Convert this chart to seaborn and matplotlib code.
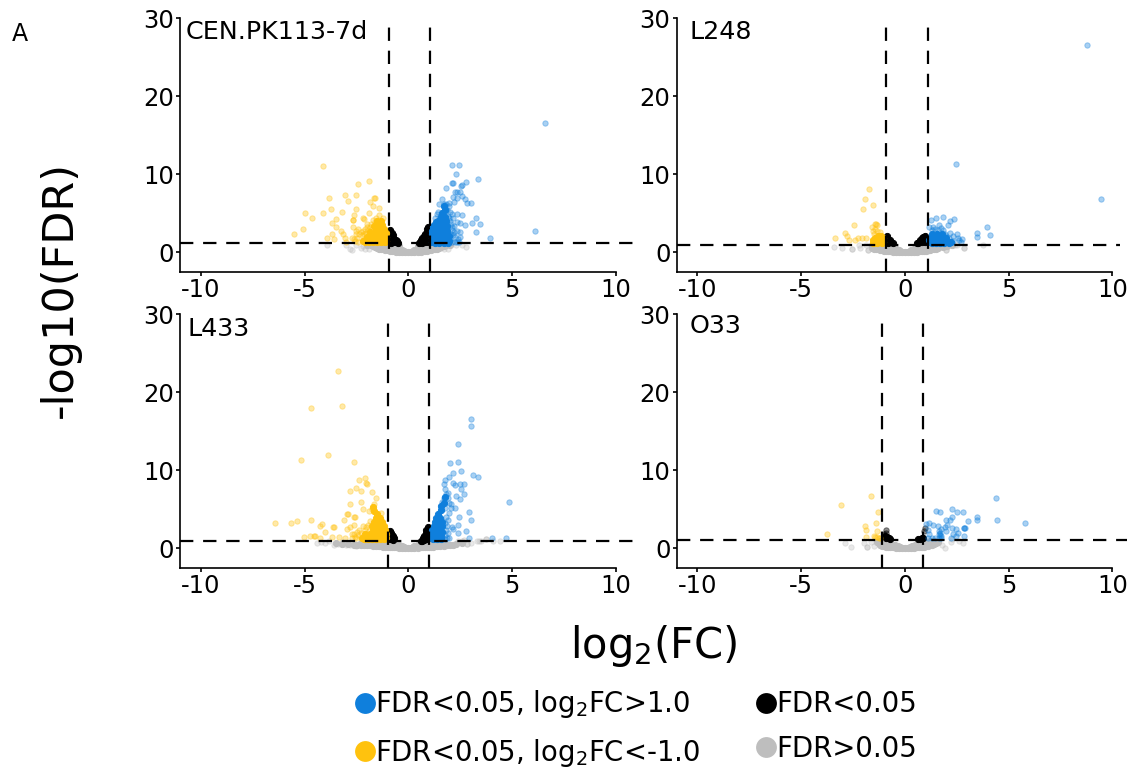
import matplotlib
matplotlib.use("Agg")
import matplotlib.pyplot as plt
from matplotlib.lines import Line2D
import seaborn as sns

sns.set_theme(style="ticks")
plt.rcParams["font.family"] = ["DejaVu Sans"]
plt.rcParams["mathtext.default"] = "regular"
plt.rcParams["axes.unicode_minus"] = False

BLUE = "#0F7FDC"
YELLOW = "#FFC20E"
BLACK = "#000000"
GRAY = "#BEBEBE"

panel_names = ["CEN.PK113-7d", "L248", "L433", "O33"]
x_ticks = [-10, -5, 0, 5, 10]
y_ticks = [0, 10, 20, 30]
legend_labels = ["FDR<0.05, log$_2$FC>1.0", "FDR<0.05, log$_2$FC<-1.0", "FDR<0.05", "FDR>0.05"]

# threshold lines
cen_lines = (-0.93, 1.06, 1.15)
l248_lines = (-0.90, 1.09, 1.0)
l433_lines = (-1.0, 0.99, 0.93)
o33_lines = (-1.11, 0.88, 1.07)

# ---------- CEN.PK113-7d ----------
cen_up = [(6.6,16.6),(6.1,2.8),(3.93,1.9),(2.1,11.2),(2.44,11.15),(2.3,10.1),(3.37,9.35),(2.8,9.05),(2.1,8.9),(2.17,8.9),
 (2.59,8.6),(2.52,8.55),(1.8,8.3),(2.27,7.75),(2.35,7.75),(2.5,7.7),(2.6,7.2),(2.15,7.05),(2.35,7.0),(2.75,6.85),
 (1.62,6.85),(2.83,6.3),(3.0,6.3),(2.2,6.5),(1.5,6.25),(1.7,6.25),(1.83,6.25),(1.94,5.9),(1.78,5.7),(2.35,4.9),
 (2.57,4.85),(3.28,4.45),(3.47,3.7),(3.05,3.75),(2.73,3.45),(2.47,3.75),(2.35,3.85),(3.28,2.6),(2.47,2.6),(2.35,2.8),
 (2.18,4.4),(2.26,2.0),(2.5,2.0),(2.35,1.4),(2.1,2.9),(2.0,1.6),(2.2,3.4),(2.05,3.7),(2.15,2.2),(1.95,4.4),(1.3,4.4),(1.45,5.2),
 (2.4,1.7),(2.25,1.3),(2.1,1.35),(2.05,2.4),(2.2,2.6),(2.1,3.2),(2.0,4.0),(2.1,4.9),(1.9,4.7),(1.55,4.7),(1.4,4.9),(2.0,5.2),(1.95,6.3),(2.45,1.3),(1.85,5.4)]
cen_up_core = [(1.2,1.5),(1.4,1.5),(1.6,1.5),(1.8,1.5),(1.95,1.5),(1.2,2.0),(1.4,2.0),(1.6,2.0),(1.8,2.0),(1.95,2.1),
 (1.2,2.5),(1.4,2.5),(1.6,2.5),(1.8,2.5),(1.2,3.0),(1.4,3.0),(1.6,3.0),(1.8,3.0),(1.25,3.5),(1.45,3.5),(1.65,3.5),(1.85,3.4),
 (1.45,4.0),(1.65,4.0),(1.8,4.0),(1.6,4.5),(1.75,4.5),(1.65,5.0),(1.75,5.4),(1.7,5.9),(1.15,1.3),(1.15,1.8),(1.15,2.3),(1.15,2.8),(1.2,3.3),(1.3,1.25),(1.5,1.25),(1.7,1.25),(1.9,1.25),
 (1.3,1.75),(1.5,1.75),(1.7,1.75),(1.3,2.25),(1.5,2.25),(1.7,2.25),(1.88,2.8),(1.3,2.75),(1.5,2.75),(1.7,2.75),(1.35,3.9)]
cen_down = [(-4.13,11.1),(-1.9,9.2),(-2.4,8.7),(-3.05,7.3),(-2.5,7.35),(-3.8,7.0),(-2.9,6.6),(-1.86,6.5),(-1.6,7.0),(-1.65,7.0),
 (-1.7,6.0),(-1.43,5.7),(-5.0,5.1),(-4.1,5.0),(-3.7,5.5),(-3.2,5.2),(-2.5,5.6),(-4.65,4.4),(-3.5,4.3),(-3.66,3.8),
 (-3.5,3.2),(-2.67,4.2),(-2.65,4.2),(-2.2,4.4),(-2.15,4.3),(-1.88,5.0),(-2.63,4.8),(-5.5,2.3),(-5.07,3.0),(-3.26,2.7),
 (-3.66,2.35),(-3.9,1.9),(-3.6,1.7),(-3.16,2.3),(-3.0,1.3),(-2.7,1.85),(-3.05,1.8),(-2.65,3.2),(-2.4,3.0),(-2.5,2.3),
 (-2.3,2.6),(-2.55,1.5),(-2.2,1.6),(-2.0,3.7),(-1.7,4.2),(-1.4,4.8),(-2.6,1.75),(-2.45,1.9),(-2.35,2.3),(-2.2,2.8),(-2.1,3.0),(-2.0,3.2),(-2.25,2.2),
 (-2.15,2.4),(-1.95,2.9),(-2.05,2.5),(-2.4,1.4),(-2.5,2.75),(-1.8,3.6),(-1.85,3.2),(-1.6,3.9),(-1.75,3.0),(-1.55,4.4),(-1.2,4.4)]
cen_down_core = [(-1.05,1.5),(-1.2,1.5),(-1.4,1.5),(-1.6,1.5),(-1.8,1.5),(-2.0,1.5),(-2.2,1.5),(-1.05,2.0),(-1.2,2.0),(-1.4,2.0),
 (-1.6,2.0),(-1.8,2.0),(-2.0,2.0),(-1.05,2.5),(-1.2,2.5),(-1.4,2.5),(-1.6,2.5),(-1.85,2.6),(-1.15,3.0),(-1.35,3.0),(-1.55,3.0),
 (-1.25,3.5),(-1.45,3.5),(-1.65,3.4),(-1.3,4.0),(-1.5,4.0),(-1.1,1.3),(-1.3,1.3),(-1.5,1.3),(-1.7,1.3),(-1.9,1.3),(-2.1,1.3),(-1.1,1.8),(-1.3,1.8),(-1.5,1.8),(-1.7,1.8),(-1.1,2.3),(-1.3,2.3),(-1.5,2.3),(-1.7,2.3)]
cen_black = [(-0.87,1.4),(-0.87,1.9),(-0.87,2.4),(-0.86,2.85),(-0.75,1.3),(-0.75,1.8),(-0.72,2.2),(-0.6,1.3),(-0.6,1.65),(-0.47,1.25),
 (-0.85,1.65),(-0.8,2.1),(-0.8,2.5),(-0.68,1.5),(-0.52,1.45),(-0.85,1.2),
 (0.95,1.4),(0.95,1.9),(0.95,2.4),(0.95,2.9),(0.97,3.3),(0.82,1.4),(0.82,1.9),(0.82,2.4),(0.68,1.3),(0.68,1.8),(0.56,1.3),
 (0.88,1.65),(0.88,2.15),(0.88,2.65),(0.75,1.6),(0.75,2.1),(0.6,1.55),(0.9,3.0),(0.5,1.2),(0.65,1.2)]
cen_gray = [(-2.8,0.45),(-2.7,0.3),(-3.0,0.9),(-3.9,1.0),(-2.1,0.5),(-2.3,0.6),(-1.9,0.45),(2.8,0.75),(2.3,0.9),(2.6,1.0),(1.7,0.45),(1.9,0.5),(-2.5,0.9),(-2.2,0.85)]
cen_gray_core = [(0,0.05),(-0.15,0.05),(0.15,0.05),(-0.3,0.05),(0.3,0.05),(-0.3,0.3),(0.3,0.3),(-0.45,0.1),(0.45,0.1),(-0.45,0.5),(0.45,0.5),
 (-0.45,0.8),(0.45,0.8),(-0.6,0.12),(0.6,0.12),(-0.6,0.5),(0.6,0.5),(-0.6,0.9),(0.6,0.9),(-0.8,0.2),(0.8,0.2),(-0.8,0.6),(0.8,0.6),(-0.8,1.0),(0.8,1.0),
 (-1.0,0.3),(1.0,0.3),(-1.0,0.7),(1.0,0.7),(-1.0,1.1),(1.0,1.1),(-1.2,0.4),(1.2,0.4),(-1.2,0.8),(1.2,0.8),(-1.2,1.05),(1.2,1.05),(-1.4,0.5),(1.4,0.5),
 (-1.4,0.9),(1.4,0.9),(-1.6,0.7),(1.6,0.7),(-1.6,1.0),(1.6,1.0),(-1.8,0.9),(1.8,0.9),(-1.8,1.05),(1.8,1.05),(-2.0,0.95),(2.0,0.95),
 (-0.22,0.2),(0.22,0.2),(-0.38,0.18),(0.38,0.18),(-0.52,0.3),(0.52,0.3),(-0.7,0.15),(0.7,0.15),(-0.9,0.25),(0.9,0.25),(-1.1,0.35),(1.1,0.35),(-1.3,0.45),(1.3,0.45),(-1.5,0.6),(1.5,0.6),(-1.7,0.8),(1.7,0.8)]

# ---------- L248 ----------
l248_up = [(8.75,26.5),(9.45,6.9),(2.46,11.3),(1.82,4.5),(1.5,4.35),(1.24,4.2),(2.36,4.25),(2.18,4.0),(2.07,3.5),(1.65,3.5),(1.37,3.3),
 (1.14,3.3),(1.85,2.9),(1.6,2.9),(2.17,2.5),(2.49,2.4),(2.33,2.15),(2.57,1.85),(2.73,1.75),(2.7,1.3),(3.95,3.3),(3.49,2.45),(3.45,2.0),
 (4.1,2.2),(1.28,2.9),(2.0,2.05),(1.75,3.1),(1.45,3.05),(2.6,1.6),(2.05,1.6),(2.3,1.5),(1.95,2.4),(2.1,1.9)]
l248_up_core = [(1.2,1.4),(1.4,1.4),(1.6,1.4),(1.8,1.4),(2.0,1.4),(2.2,1.4),(1.2,1.9),(1.4,1.9),(1.6,1.9),(1.8,1.9),(2.0,1.9),(1.3,2.3),(1.55,2.3),(1.8,2.3),
 (1.3,1.25),(1.5,1.25),(1.7,1.25),(1.9,1.25),(2.1,1.25),(1.18,1.6),(1.3,1.65),(1.5,1.65),(1.7,1.65),(1.9,1.65)]
l248_down = [(-1.72,8.15),(-1.93,6.9),(-1.53,6.05),(-2.04,5.6),(-2.46,3.5),(-1.45,3.7),(-1.37,3.5),(-1.59,3.3),(-1.53,2.8),(-2.89,2.55),
 (-2.81,2.05),(-3.37,1.8),(-2.68,1.6),(-2.41,1.55),(-2.25,1.8),(-2.05,1.8),(-1.88,1.9),(-1.2,2.6),(-1.4,3.7),(-1.42,3.0),(-1.5,2.4),(-1.35,2.7)]
l248_down_core = [(-1.05,1.4),(-1.25,1.4),(-1.45,1.4),(-1.05,1.9),(-1.25,1.9),(-1.45,1.9),(-1.55,1.6),(-1.3,2.1),(-1.15,1.65),(-1.35,1.65),(-1.1,1.25),(-1.35,1.25),(-1.55,1.25),(-1.15,2.15)]
l248_black = [(-0.85,1.3),(-0.85,1.8),(-0.85,2.05),(-0.7,1.3),(-0.7,1.55),(-0.58,1.15),(0.95,1.3),(0.95,1.8),(0.97,2.15),(0.8,1.3),(0.8,1.8),(0.65,1.25),
 (-0.78,1.5),(-0.8,1.15),(0.88,1.55),(0.88,2.0),(0.72,1.55),(0.58,1.15)]
l248_gray = [(-3.42,0.65),(-3.04,0.6),(-2.54,0.5),(-2.54,0.5),(-2.17,0.55),(-1.77,0.35),(-1.77,0.3),(2.84,0.6),(2.84,0.6),(3.74,0.95),(2.0,0.35),(2.0,0.3),(2.4,1.0),
 (-1.9,1.0),(-2.2,0.9),(2.5,0.9),(1.1,0.25)]
l248_gray_core = [(0,0.05),(-0.15,0.05),(0.15,0.05),(-0.3,0.05),(0.3,0.05),(-0.3,0.3),(0.3,0.3),(-0.45,0.1),(0.45,0.1),(-0.45,0.5),(0.45,0.5),
 (-0.6,0.12),(0.6,0.12),(-0.6,0.5),(0.6,0.5),(-0.55,0.85),(0.55,0.85),(-0.8,0.2),(0.8,0.2),(-0.8,0.6),(0.8,0.6),(-0.75,1.0),(0.7,1.0),
 (-1.0,0.25),(1.0,0.25),(-1.0,0.7),(1.0,0.7),(-1.0,1.0),(1.0,1.0),(-1.2,0.35),(1.2,0.35),(-1.2,0.8),(1.2,0.8),(-1.4,0.45),(1.4,0.45),(-1.4,0.9),(1.4,0.9),
 (-1.6,0.6),(1.6,0.6),(-1.6,0.95),(1.6,0.95),(1.85,0.7),(2.05,0.85),(2.25,0.95),(-0.22,0.2),(0.22,0.2),(-0.7,0.15),(0.7,0.15),(-0.9,0.25),(0.9,0.25),(-1.1,0.3),(1.1,0.3),(-1.3,0.4),(1.3,0.4),(-1.5,0.5),(1.5,0.5)]

# ---------- L433 ----------
l433_down = [(-3.4,22.7),(-4.7,17.95),(-3.2,18.2),(-5.15,11.35),(-3.85,11.9),(-2.6,11.05),(-2.09,9.0),(-2.35,8.8),(-1.98,8.2),(-2.02,8.35),
 (-2.54,7.75),(-2.8,7.35),(-2.27,7.3),(-1.75,7.2),(-1.54,6.4),(-2.81,5.7),(-2.3,5.95),(-2.17,5.05),(-1.64,5.7),(-1.75,5.1),(-1.88,4.8),
 (-2.92,4.4),(-2.95,4.4),(-2.59,4.0),(-2.62,4.0),(-3.08,3.6),(-6.44,3.2),(-5.67,3.2),(-5.37,3.45),(-4.69,3.65),(-4.16,3.1),(-4.24,2.9),
 (-3.6,2.8),(-3.63,2.8),(-4.03,2.15),(-2.95,2.5),(-2.8,2.8),(-2.6,2.95),(-4.53,1.6),(-4.5,1.6),(-4.72,1.65),(-5.03,1.45),(-4.24,1.4),
 (-3.68,1.5),(-3.36,1.45),(-3.04,1.4),(-2.71,1.9),(-2.47,2.15),(-2.04,2.75),(-1.7,3.0),(-2.35,2.4),(-1.3,4.5),(-2.7,1.3),(-2.55,1.5),(-2.4,1.7),(-2.5,1.3),(-2.6,1.8),(-2.3,2.0),(-2.2,2.9),(-2.1,2.4),(-1.95,3.0),(-1.85,3.5),(-1.9,2.2)]
l433_down_core = [(-1.08,1.4),(-1.25,1.4),(-1.45,1.4),(-1.65,1.4),(-1.85,1.4),(-2.05,1.4),(-2.25,1.4),(-1.08,1.9),(-1.25,1.9),(-1.45,1.9),(-1.65,1.9),(-1.85,1.9),
 (-2.1,1.9),(-1.1,2.4),(-1.3,2.4),(-1.5,2.4),(-1.7,2.4),(-1.15,2.9),(-1.35,2.9),(-1.55,2.9),(-1.75,2.9),(-1.25,3.4),(-1.45,3.4),(-1.65,3.4),(-1.35,3.9),(-1.55,3.9),
 (-1.5,4.4),(-1.65,4.8),(-1.7,5.3),(-1.15,1.2),(-1.35,1.2),(-1.55,1.2),(-1.75,1.2),(-1.95,1.2),(-2.15,1.2),(-1.15,1.65),(-1.35,1.65),(-1.55,1.65),(-1.75,1.65),(-1.2,2.15),(-1.4,2.15),(-1.6,2.15)]
l433_up = [(3.02,16.6),(3.0,15.65),(2.39,13.4),(2.02,10.95),(2.39,11.05),(2.15,9.65),(2.52,9.85),(1.94,9.2),(3.1,9.35),(3.34,9.1),(1.77,8.75),
 (2.15,8.4),(2.23,8.1),(2.5,8.2),(2.71,8.2),(2.55,7.55),(2.7,7.0),(2.28,6.65),(2.5,6.3),(4.84,5.9),(2.06,5.75),(2.06,5.2),(2.23,5.2),
 (2.92,4.65),(2.44,4.0),(3.02,3.65),(2.41,3.0),(2.1,2.7),(2.18,2.45),(2.76,2.2),(2.41,1.95),(2.91,1.4),(4.05,1.3),(4.7,1.4),(1.78,7.6),
 (1.9,7.05),(1.7,6.4),(1.72,8.2),(1.9,6.5),(1.95,4.5),(1.9,3.6),(1.85,2.9),(1.9,2.0),(1.75,1.7),(1.75,1.25),(1.6,4.9),(1.95,5.8),(1.8,7.0),(1.95,1.3),(1.85,1.4),(1.8,2.4),(1.75,3.3),(1.8,4.0),(1.75,5.2),(1.65,6.0)]
l433_up_core = [(1.13,1.4),(1.3,1.4),(1.5,1.4),(1.13,1.9),(1.3,1.9),(1.5,1.9),(1.15,2.4),(1.35,2.4),(1.55,2.4),(1.25,2.9),(1.45,2.9),(1.62,2.9),
 (1.3,3.4),(1.5,3.4),(1.65,3.4),(1.35,3.9),(1.55,3.9),(1.45,4.4),(1.6,4.9),(1.6,5.4),(1.7,5.8),(1.75,6.6),(1.2,1.2),(1.4,1.2),(1.6,1.2),(1.2,1.65),(1.4,1.65),(1.6,1.65),(1.25,2.15),(1.45,2.15),(1.65,2.15)]
l433_black = [(-0.9,1.2),(-0.9,1.7),(-0.88,2.2),(-0.78,1.2),(-0.78,1.7),(-0.72,1.05),(-0.68,1.4),(0.9,1.2),(0.9,1.7),(0.9,2.2),(0.93,2.7),(0.78,1.1),(0.78,1.6),(0.68,1.0),(0.84,2.4),
 (-0.85,1.45),(-0.82,1.95),(-0.72,1.6),(0.85,1.45),(0.85,1.95),(0.72,1.3),(0.6,1.0)]
l433_gray = [(-4.2,0.8),(-4.0,0.7),(-3.8,0.9),(-3.6,0.5),(-3.4,0.6),(-3.2,0.8),(-3.0,0.5),(-2.8,0.4),(-2.6,0.7),(-2.5,0.35),(-2.3,0.5),(-4.4,0.65),(3.76,1.2),(3.76,1.2),
 (3.4,1.0),(3.3,0.9),(3.0,0.7),(2.85,0.6),(2.85,0.6),(2.6,0.9),(2.4,1.0),(2.2,0.5),(4.1,1.0),(4.4,0.95),(3.5,0.95),(2.7,1.1),(2.0,0.4)]
l433_gray_core = [(0,0.05),(-0.15,0.05),(0.15,0.05),(-0.3,0.05),(0.3,0.05),(-0.3,0.3),(0.3,0.3),(-0.45,0.1),(0.45,0.1),(-0.45,0.5),(0.45,0.5),(-0.6,0.15),(0.6,0.15),
 (-0.6,0.55),(0.6,0.55),(-0.8,0.2),(0.8,0.2),(-0.8,0.6),(0.8,0.6),(-1.0,0.2),(1.0,0.2),(-1.0,0.7),(1.0,0.7),(-1.2,0.25),(1.2,0.25),(-1.2,0.75),(1.2,0.75),(-1.4,0.3),(1.4,0.3),
 (-1.4,0.75),(1.4,0.75),(-1.7,0.35),(1.7,0.35),(-1.7,0.75),(1.7,0.75),(-2.0,0.4),(2.0,0.4),(-2.0,0.75),(-2.3,0.45),(-2.3,0.75),(-2.6,0.45),(-2.9,0.55),(-3.2,0.6),(-3.5,0.7),(2.3,0.55),(2.6,0.65),
 (-0.22,0.2),(0.22,0.2),(-0.7,0.18),(0.7,0.18),(-0.9,0.2),(0.9,0.2),(-1.1,0.22),(1.1,0.22),(-1.3,0.28),(1.3,0.28),(-1.55,0.32),(1.55,0.32),(-1.85,0.38),(1.85,0.38),(-2.15,0.42),(-2.45,0.5),(2.15,0.48)]

# ---------- O33 ----------
o33_down = [(-1.62,6.65),(-3.08,5.6),(-1.32,4.7),(-1.38,3.25),(-1.91,2.85),(-1.88,2.35),(-1.35,2.25),(-3.74,1.9),(-1.9,1.45),(-1.48,1.55),(-1.33,1.45),(-1.2,1.4),(-1.42,1.5),(-1.25,1.35)]
o33_down_core = []
o33_up = [(4.39,6.5),(5.8,3.25),(4.45,3.7),(3.45,4.0),(3.45,3.6),(3.04,3.55),(2.27,5.1),(1.49,4.85),(1.69,4.7),(2.52,4.7),(2.8,4.7),(2.27,4.0),(1.96,3.7),(2.17,3.6),
 (1.0,3.15),(1.14,3.2),(1.37,3.0),(1.59,2.9),(2.04,3.0),(1.94,2.7),(1.73,2.55),(1.65,2.25),(2.0,2.25),(2.25,2.6),(2.46,2.45),(2.84,2.6),(2.89,2.6),(2.86,2.65),(1.12,2.35),(1.17,1.9),
 (2.54,2.0),(2.3,1.9),(2.84,1.65),(2.46,1.6),(2.23,1.3),(1.65,1.4),(1.75,1.3),(1.29,1.3),(1.43,1.3),(1.65,1.9),(1.7,2.0),(1.72,1.6),(1.1,1.35),(1.7,1.7)]
o33_up_core = []
o33_black = [(-0.9,1.3),(-0.95,1.6),(-0.85,1.5),(-0.75,1.35),(-0.7,1.25),(0.8,1.3),(0.85,1.4),(0.72,1.25),(0.62,1.2)]
o33_black_light = [(-0.9,2.3),(-0.92,2.0),(-1.0,1.9),(0.95,2.6),(0.92,2.2)]
o33_gray = [(-2.88,0.65),(-2.59,0.2),(-1.82,0.15),(-1.82,0.15),(-1.98,0.75),(-1.5,0.3),(1.94,0.1),(2.78,0.75),(2.25,1.25),(2.6,0.9),(1.6,0.9),(1.8,0.5),(2.2,0.8),(-1.65,0.8)]
o33_gray_core = [(0,0.05),(-0.15,0.05),(0.15,0.05),(-0.3,0.05),(0.3,0.05),(-0.35,0.3),(0.35,0.3),(-0.45,0.1),(0.45,0.1),(-0.5,0.45),(0.5,0.45),(-0.6,0.15),(0.6,0.15),
 (-0.65,0.6),(0.65,0.6),(-0.8,0.2),(0.8,0.2),(-0.8,0.7),(0.8,0.7),(-1.0,0.3),(1.0,0.3),(-1.0,0.8),(1.0,0.8),(-1.2,0.4),(1.2,0.4),(-1.2,0.9),(1.2,0.9),(1.4,0.6),(1.4,1.0),(-1.35,0.8),(1.6,0.85),
 (-0.22,0.2),(0.22,0.2),(-0.7,0.18),(0.7,0.18),(-0.9,0.25),(0.9,0.25),(-1.1,0.35),(1.1,0.35),(1.3,0.5),(1.5,0.7)]

panels = [
    (cen_gray, cen_gray_core, cen_black, [], cen_down, cen_down_core, cen_up, cen_up_core, cen_lines, 11.0),
    (l248_gray, l248_gray_core, l248_black, [], l248_down, l248_down_core, l248_up, l248_up_core, l248_lines, 10.35),
    (l433_gray, l433_gray_core, l433_black, [], l433_down, l433_down_core, l433_up, l433_up_core, l433_lines, 11.0),
    (o33_gray, o33_gray_core, o33_black, o33_black_light, o33_down, o33_down_core, o33_up, o33_up_core, o33_lines, 10.7),
]

W, H = 1128, 771
fig = plt.figure(figsize=(W / 100, H / 100), dpi=100, facecolor="white")

boxes = [(180.0, 18.0, 11.0), (676.7, 18.0, 10.7), (180.0, 314.0, 11.0), (676.7, 314.0, 10.7)]
label_px = [(186, 32), (690, 32), (187, 329), (690, 326)]
PX_PER_X = 20.75
AX_H = 254.0


def dots(ax, pts, color, alpha, size=15, lw=0.7):
    if not pts:
        return
    xs = [p[0] for p in pts]
    ys = [p[1] for p in pts]
    sns.scatterplot(x=xs, y=ys, ax=ax, color=color, alpha=alpha, s=size,
                    edgecolor=color, linewidth=lw, legend=False, clip_on=False)


for i, (box, data, name) in enumerate(zip(boxes, panels, panel_names)):
    left, top, xmax = box
    width = (xmax + 11.0) * PX_PER_X
    ax = fig.add_axes([left / W, 1 - (top + AX_H) / H, width / W, AX_H / H])
    gray, gray_core, blk, blk_light, down, down_core, up, up_core, lines, hend = data

    dots(ax, gray, GRAY, 0.35)
    dots(ax, gray_core, GRAY, 1.0, size=20)
    dots(ax, blk_light, BLACK, 0.45)
    dots(ax, blk, BLACK, 1.0, size=20)
    dots(ax, down, YELLOW, 0.36)
    dots(ax, down_core, YELLOW, 1.0, size=20)
    dots(ax, up, BLUE, 0.36)
    dots(ax, up_core, BLUE, 1.0, size=20)

    ax.set_xlim(-11, xmax)
    ax.set_ylim(-2.5, 30)
    dash = dict(color="black", lw=1.6, linestyle=(0, (6.0, 4.4)), zorder=5)
    ax.axvline(lines[0], ymax=0.985, **dash)
    ax.axvline(lines[1], ymax=0.985, **dash)
    ax.hlines(lines[2], -11, hend, clip_on=False, **dash)

    sns.despine(ax=ax)
    ax.spines["bottom"].set_bounds(-11, 10)
    for s in ("left", "bottom"):
        ax.spines[s].set_linewidth(1.2)
        ax.spines[s].set_color("black")
    ax.set_xticks(x_ticks)
    ax.set_yticks(y_ticks)
    ax.tick_params(axis="both", labelsize=17.5, length=3, width=1.2, color="black",
                   labelcolor="black", pad=1.5)
    px, py = label_px[i]
    fig.text(px / W, 1 - py / H, name, fontsize=18.3, va="center", ha="left", color="black")

fig.text(20 / W, 1 - 34 / H, "A", fontsize=17, ha="center", va="center", color="black")
fig.text(60 / W, 1 - 290 / H, "-log10(FDR)", fontsize=31, rotation=90, ha="center", va="center", color="black")
fig.text(654 / W, 1 - 646 / H, "log$_2$(FC)", fontsize=30, ha="center", va="center", color="black")

handles = [Line2D([], [], linestyle="none", marker="o", markersize=15, markeredgewidth=0, color=c)
           for c in (BLUE, YELLOW, BLACK, GRAY)]
fig.legend(handles, legend_labels, ncol=2, frameon=False, fontsize=19.8, labelcolor="black",
           loc="center", bbox_to_anchor=(636 / W, 1 - 728.5 / H), handlelength=0.7, handletextpad=0.02,
           columnspacing=2.05, labelspacing=0.6, borderpad=0)

fig.savefig("out.png", dpi=100, facecolor="white")
